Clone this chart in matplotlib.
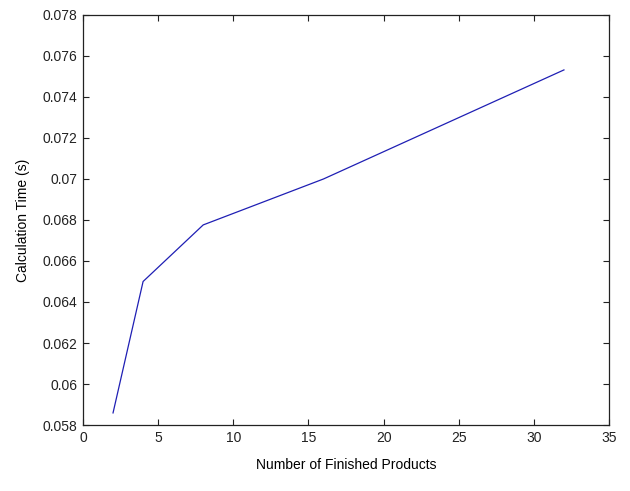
import matplotlib
matplotlib.use("Agg")
import matplotlib.pyplot as plt
from matplotlib.ticker import FuncFormatter

plt.rcParams['font.family'] = ['Liberation Sans', 'DejaVu Sans']

products = [2, 4, 8, 16, 32]
calc_time = [0.05859, 0.0650, 0.06776, 0.0700, 0.07532]

x_ticks = [0, 5, 10, 15, 20, 25, 30, 35]
y_ticks = [0.058, 0.06, 0.062, 0.064, 0.066, 0.068, 0.07, 0.072, 0.074, 0.076, 0.078]

fig = plt.figure(figsize=(6.3, 4.91), dpi=100)
ax = fig.add_axes([0.1317, 0.1344, 0.8350, 0.8351])
ax.plot(products, calc_time, color='#1f1fb4', linewidth=0.9)

ax.set_xlim(0, 35)
ax.set_ylim(0.058, 0.078)
ax.set_xticks(x_ticks)
ax.set_yticks(y_ticks)
ax.yaxis.set_major_formatter(FuncFormatter(lambda v, p: ('%.3f' % v).rstrip('0')))

ax.tick_params(direction='in', top=True, right=True, length=4, width=0.8,
               labelsize=10, colors='#222222', pad=4)
for s in ax.spines.values():
    s.set_linewidth(0.9)
    s.set_color('#222222')

ax.set_xlabel('Number of Finished Products', fontsize=10, labelpad=10)
ax.set_ylabel('Calculation Time (s)', fontsize=10, labelpad=9)

fig.savefig('out.png', dpi=100)
